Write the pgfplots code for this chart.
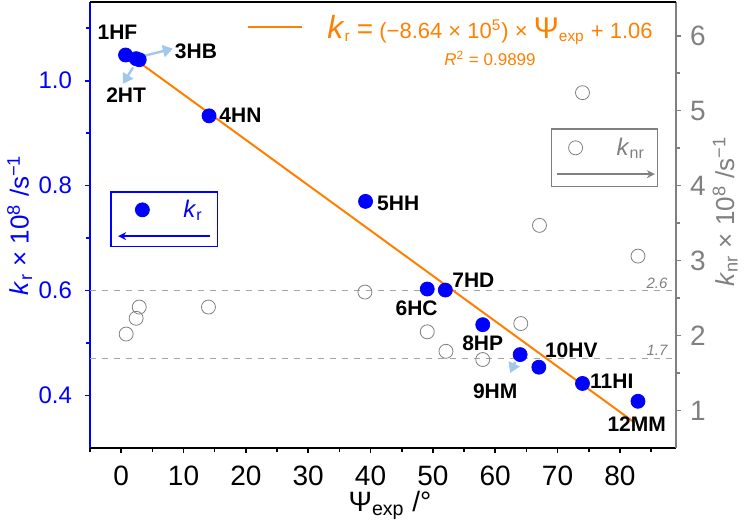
\documentclass[border=0pt]{standalone}
\usepackage{fontspec}
\setmainfont{Liberation Sans}
\usepackage{pgfplots}
\pgfplotsset{compat=1.18}
\usetikzlibrary{arrows.meta}
\definecolor{kblue}{RGB}{0,0,255}
\definecolor{korange}{RGB}{255,127,0}
\definecolor{kgray}{RGB}{128,128,128}
\definecolor{arrowblue}{RGB}{160,200,235}
\definecolor{dashgray}{RGB}{165,165,165}
\begin{document}
\begin{tikzpicture}
\begin{axis}[name=ax1,
  scale only axis, width=293pt, height=223pt,
  xmin=-5, xmax=89, ymin=0.30, ymax=1.15,
  clip=false,
  axis x line*=bottom, axis y line*=left,
  x axis line style={black,line width=0.9pt,-},
  y axis line style={kblue,line width=0.9pt,-},
  tick align=outside,
  xtick={0,10,...,80}, minor xtick={-5,5,...,85},
  ytick={0.4,0.6,0.8,1.0}, minor ytick={0.5,0.7,0.9,1.1},
  major tick length=2.5pt, minor tick length=2pt,
  x tick style={black,line width=0.8pt},
  y tick style={kblue,line width=0.8pt},
  /pgf/number format/assume math mode=true,
  yticklabel style={/pgf/number format/fixed,/pgf/number format/fixed zerofill,/pgf/number format/precision=1,
     font=\fontsize{12}{12}\selectfont, text=kblue, xshift=-3pt},
  xticklabel style={font=\fontsize{14}{14}\selectfont, yshift=-3pt},
  xlabel={Ψ\textsubscript{exp} /°},
  xlabel style={font=\fontsize{14}{16}\selectfont, at={(axis description cs:0.512,-0.128)}, anchor=center},
  ylabel={\textit{k}\textsubscript{r} × 10\textsuperscript{8} /s\textsuperscript{−1}},
  ylabel style={font=\fontsize{13}{15}\selectfont, text=kblue, at={(axis description cs:-0.12,0.5)}, anchor=center},
  legend style={at={(axis description cs:0.0887,0.534)}, anchor=west, xshift=-3.5pt, draw=none, fill=none,
     font=\fontsize{12}{12}\selectfont, text=kblue, inner sep=0pt},
  legend cell align=left,
]
\addplot[dashgray, dashed, line width=0.5pt, forget plot] coordinates {(-5,0.6) (89,0.6)};
\addplot[dashgray, dashed, line width=0.5pt, forget plot] coordinates {(-5,0.4714) (89,0.4714)};
\addplot[only marks, mark=*, mark size=3.5pt, color=kblue] coordinates {
 (0.7,1.049) (2.4,1.042) (2.9,1.040) (14.1,0.933) (39.2,0.770) (49.1,0.603)
 (52.0,0.601) (58.0,0.535) (64.0,0.478) (67.0,0.454) (74.0,0.423) (82.9,0.389)};
\addlegendentry{\hspace{15pt}\textit{k}\textsubscript{r}}
\addplot[korange, line width=1pt, forget plot] coordinates {(0.7,1.054) (82.1,0.3507)};
\draw[kblue, line width=0.6pt] (axis description cs:0.036,0.451) rectangle (axis description cs:0.218,0.574);
\draw[kblue, line width=0.8pt, -{Stealth[length=4pt,width=4pt]}] (axis description cs:0.205,0.475) -- (axis description cs:0.048,0.475);
\draw[arrowblue, line width=1.2pt, -{Triangle[length=5pt,width=6pt]}] (axis cs:3.7,1.0475) -- (axis cs:8.3,1.061);
\draw[arrowblue, line width=1.2pt, -{Triangle[length=5pt,width=6pt]}] (axis cs:1.9,1.025) -- (axis cs:0.27,0.994);
\draw[arrowblue, line width=1.2pt, -{Triangle[length=5pt,width=6pt]}] (axis cs:63.2,0.464) -- (axis cs:62.4,0.443);
\begin{scope}[every node/.style={font=\fontsize{10.5}{12}\selectfont\bfseries}]
\node at (axis cs:-0.6,1.092) {1HF};
\node at (axis cs:12.0,1.057) {3HB};
\node at (axis cs:0.8,0.9715) {2HT};
\node[anchor=west, inner sep=0pt] at (axis cs:15.7,0.935) {4HN};
\node[anchor=west, inner sep=0pt] at (axis cs:41,0.766) {5HH};
\node at (axis cs:47.4,0.566) {6HC};
\node at (axis cs:56.5,0.619) {7HD};
\node at (axis cs:58.0,0.500) {8HP};
\node at (axis cs:60.0,0.409) {9HM};
\node at (axis cs:72.2,0.4867) {10HV};
\node at (axis cs:78.7,0.4264) {11HI};
\node at (axis cs:82.7,0.3457) {12MM};
\end{scope}
\node[anchor=south east, inner sep=1pt, text=kgray, font=\fontsize{7.5}{8}\selectfont\itshape] at (axis cs:88,0.6) {2.6};
\node[anchor=south east, inner sep=1pt, text=kgray, font=\fontsize{7.5}{8}\selectfont\itshape] at (axis cs:88,0.4714) {1.7};
\draw[korange, line width=1pt] (axis description cs:0.27,0.944) -- (axis description cs:0.362,0.944);
\node[text=korange, font=\fontsize{11}{12}\selectfont] at (axis description cs:0.6826,0.937)
 {{\fontsize{16}{16}\selectfont\textit{k}}\textsubscript{r} {\fontsize{14}{14}\selectfont =} (−8.64 × 10\textsuperscript{5}) × {\fontsize{15}{15}\selectfont Ψ}\textsubscript{exp} + 1.06};
\node[text=korange, font=\fontsize{8.5}{10}\selectfont] at (axis description cs:0.6826,0.874) {\textit{R}\textsuperscript{2} = 0.9899};
\end{axis}
\begin{axis}[
  scale only axis, width=293pt, height=223pt,
  xmin=-5, xmax=89, ymin=0.5, ymax=6.45,
  clip=false,
  axis x line=none, axis y line*=right,
  y axis line style={kgray,line width=0.9pt,-},
  tick align=outside,
  ytick={1,2,3,4,5,6}, minor ytick={1.5,2.5,3.5,4.5,5.5},
  major tick length=2.5pt, minor tick length=2pt,
  y tick style={kgray,line width=0.8pt},
  /pgf/number format/assume math mode=true,
  yticklabel style={font=\fontsize{14}{14}\selectfont, text=kgray, xshift=1pt},
  ylabel={\textit{k}\textsubscript{nr} × 10\textsuperscript{8} /s\textsuperscript{−1}},
  ylabel style={font=\fontsize{13}{15}\selectfont, text=kgray, at={(axis description cs:1.084,0.53)}, anchor=center},
  legend style={at={(axis description cs:0.828,0.673)}, anchor=west, xshift=-3.5pt, draw=none, fill=none,
     font=\fontsize{12}{12}\selectfont, text=kgray, inner sep=0pt},
  legend cell align=left,
]
\addplot[only marks, mark=o, mark size=3.5pt, color=kgray, line width=0.4pt] coordinates {
 (0.8,2.02) (2.4,2.23) (2.9,2.38) (14.0,2.38) (39.1,2.58) (49.1,2.05)
 (52.1,1.79) (58.0,1.68) (64.1,2.16) (67.1,3.47) (74.0,5.24) (82.9,3.06)};
\addlegendentry{\hspace{15pt}\textit{k}\textsubscript{nr}}
\draw[kgray, line width=0.6pt] (axis description cs:0.787,0.587) rectangle (axis description cs:0.969,0.715);
\draw[kgray, line width=0.8pt, -{Stealth[length=4pt,width=4pt]}] (axis description cs:0.797,0.614) -- (axis description cs:0.964,0.614);
\end{axis}
\draw[black, line width=0.9pt] (ax1.north west) -- (ax1.north east);
\pgfresetboundingbox
\path[use as bounding box] ([xshift=-45pt,yshift=-39pt]ax1.south west) rectangle ([xshift=34.5pt,yshift=1pt]ax1.north east);
\end{tikzpicture}
\end{document}
